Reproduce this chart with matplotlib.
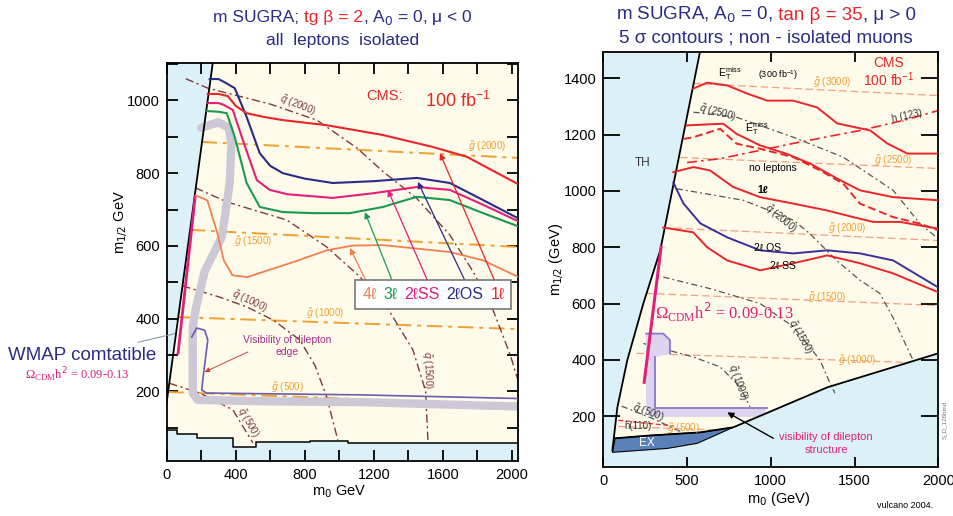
import numpy as np
import matplotlib.pyplot as plt
from matplotlib.patches import Polygon
from matplotlib.offsetbox import TextArea, HPacker, AnnotationBbox

plt.rcParams['font.family'] = ['Liberation Sans', 'DejaVu Sans']

# colours
c_sky = '#dcf0f8'
c_cream = '#fffbea'
c_navy = '#2b2b86'
c_red = '#e8262a'
c_mag = '#e0207a'
c_green = '#1a9a50'
c_orange = '#f08050'
c_sq = '#7b3b3b'
c_gl = '#f0a030'
c_text_vis = '#a0308a'

# ---------------- left panel data (tan b = 2) ----------------
L_th_m0 = [0, 267]
L_th_m12 = [170, 1104]
L_step_m0 = [0, 58, 175, 383, 520, 830, 1050, 2040]
L_step_m12 = [94, 82, 71, 47, 60, 64, 57, 57]

L_1l_m0 = [238, 300, 354, 400, 463, 560, 673, 927, 1252, 1543, 1739, 2035]
L_1l_m12 = [1018, 1018, 1012, 985, 965, 955, 946, 932, 905, 872, 845, 770]
L_2los_m0 = [249, 300, 336, 394, 463, 539, 600, 673, 800, 962, 1200, 1449, 1640, 1833, 2035]
L_2los_m12 = [1059, 1059, 1050, 1034, 955, 855, 820, 800, 785, 773, 778, 787, 773, 726, 676]
L_2lss_m0 = [238, 300, 330, 383, 441, 522, 597, 700, 962, 1200, 1449, 1640, 1833, 2035]
L_2lss_m12 = [993, 993, 988, 974, 891, 781, 754, 742, 732, 745, 762, 754, 713, 668]
L_3l_m0 = [232, 300, 348, 394, 463, 539, 673, 850, 1061, 1252, 1449, 1640, 1833, 2035]
L_3l_m12 = [971, 969, 965, 900, 773, 707, 693, 690, 690, 707, 735, 726, 690, 654]
L_4l_m0 = [169, 236, 294, 331, 381, 467, 737, 929, 1082, 1255, 1641, 1833, 2035]
L_4l_m12 = [739, 725, 634, 560, 519, 514, 556, 588, 601, 602, 583, 560, 515]

L_sq2000_m0 = [110, 238, 600, 870, 1100, 1252, 1450, 1640, 1774, 1890, 1990, 2035]
L_sq2000_m12 = [1060, 1034, 990, 946, 870, 805, 730, 630, 530, 424, 300, 230]
L_sq1500_m0 = [165, 348, 696, 927, 1119, 1275, 1426, 1500, 1513]
L_sq1500_m12 = [760, 721, 671, 597, 515, 432, 314, 200, 66]
L_sq1000_m0 = [90, 300, 464, 620, 771, 860, 927, 991]
L_sq1000_m12 = [490, 460, 432, 395, 341, 270, 184, 66]
L_sq500_m0 = [15, 191, 383, 499]
L_sq500_m12 = [222, 195, 149, 58]

L_gl_m0 = [[201, 2035], [133, 2035], [66, 2035], [8, 2035]]
L_gl_m12 = [[886, 842], [644, 597], [404, 371], [198, 162]]

L_band_m0 = [200, 300, 360, 375, 365, 320, 220, 170, 151, 151, 180, 600, 1119, 2035]
L_band_m12 = [925, 940, 925, 880, 773, 625, 530, 430, 377, 195, 176, 172, 170, 158]
L_edge_m0 = [145, 174, 220, 238, 209, 203, 232, 1119, 2035]
L_edge_m12 = [349, 374, 368, 341, 231, 203, 195, 190, 180]
L_wmap_m0 = [165, 66]
L_wmap_m12 = [735, 305]

L_arrow_tip = [(1061, 594), (1148, 693), (1281, 754), (1455, 776), (1583, 855)]
L_arrow_base = [(1159, 500), (1310, 500), (1515, 500), (1732, 500), (1903, 500)]
L_arrow_col = [c_orange, c_green, c_mag, c_navy, c_red]
L_leg_txt = ['4ℓ', '3ℓ', '2ℓSS', '2ℓOS', '1ℓ']

# ---------------- right panel data (tan b = 35) ----------------
R_allowed_m0 = [71, 84, 143, 239, 340, 579, 2000, 2000, 1337, 776, 579, 280, 71]
R_allowed_m12 = [121, 231, 398, 600, 789, 1500, 1500, 423, 302, 160, 142, 131, 121]
R_th_m0 = [54, 84, 143, 239, 340, 579]
R_th_m12 = [78, 231, 398, 600, 789, 1500]
R_low_m0 = [71, 280, 579, 776, 1337, 2000]
R_low_m12 = [121, 131, 142, 160, 302, 423]
R_ex_m0 = [54, 71, 280, 579, 776, 561, 382]
R_ex_m12 = [71, 121, 131, 142, 160, 103, 85]

R_et300_m0 = [537, 620, 740, 860, 979, 1134, 1276, 1397, 1594, 1695, 1815, 2000]
R_et300_m12 = [1364, 1385, 1375, 1346, 1321, 1321, 1297, 1240, 1215, 1169, 1133, 1133]
R_et_m0 = [498, 600, 716, 796, 936, 1095, 1236, 1415, 1534, 1731, 2000]
R_et_m12 = [1233, 1236, 1239, 1203, 1162, 1132, 1097, 1038, 1002, 978, 967]
R_nol_m0 = [480, 538, 697, 796, 936, 1135, 1294, 1433, 1532, 1731, 1890, 2000]
R_nol_m12 = [1185, 1191, 1221, 1168, 1150, 1120, 1073, 1026, 955, 907, 884, 860]
R_1l_m0 = [418, 538, 637, 776, 936, 1135, 1334, 1493, 1612, 1771, 2000]
R_1l_m12 = [1067, 1085, 1073, 1014, 978, 955, 931, 907, 890, 890, 866]
R_2los_m0 = [418, 478, 579, 740, 937, 1134, 1337, 1534, 1731, 2000]
R_2los_m12 = [1030, 956, 885, 835, 789, 778, 789, 778, 753, 657]
R_2lss_m0 = [358, 537, 620, 740, 937, 1134, 1337, 1534, 1731, 2000]
R_2lss_m12 = [870, 853, 800, 753, 718, 743, 771, 743, 707, 640]
R_h123_m0 = [500, 700, 900, 1134, 1400, 1534, 1800, 2000]
R_h123_m12 = [1101, 1115, 1140, 1169, 1200, 1215, 1252, 1286]
R_h110_m0 = [90, 250, 420]
R_h110_m12 = [185, 175, 165]

R_sq2500_m0 = [538, 796, 1135, 1433, 1731, 1890, 2000]
R_sq2500_m12 = [1280, 1262, 1191, 1120, 1002, 884, 830]
R_sq2000_m0 = [438, 836, 1135, 1234, 1393, 1532, 1651, 1729, 1849]
R_sq2000_m12 = [1008, 967, 896, 848, 753, 683, 636, 551, 399]
R_sq1500_m0 = [358, 637, 936, 1135, 1294, 1354, 1383]
R_sq1500_m12 = [694, 653, 600, 517, 399, 316, 281]
R_sq1000_m0 = [239, 537, 697, 816, 876]
R_sq1000_m12 = [458, 410, 375, 304, 233]
R_sq500_m0 = [110, 300, 478]
R_sq500_m12 = [235, 190, 140]

R_gl_m0 = [[537, 2000], [460, 2000], [358, 2000], [255, 2000], [200, 1800], [90, 700]]
R_gl_m12 = [[1382, 1339], [1119, 1080], [870, 824], [636, 593], [423, 391], [163, 150]]
R_gl_lab = ['3000', '2500', '2000', '1500', '1000', '500']
R_gl_pos = [(1367, 1385), (1731, 1108), (1457, 867), (1337, 622), (1516, 398), (478, 156)]

R_wmap_m0 = [345, 244]
R_wmap_m12 = [800, 320]
R_band_m0 = [255, 358, 398, 398, 309, 309, 975, 960, 270, 255]
R_band_m12 = [493, 493, 470, 422, 410, 227, 227, 197, 197, 230]

fig = plt.figure(figsize=(9.54, 5.16), dpi=100)
NBSP = '\u00a0'


def style_axes(ax):
    for s in ax.spines.values():
        s.set_linewidth(1.3)
    ax.tick_params(which='both', direction='in', top=True, right=True,
                   width=1.3, labelsize=10.5, pad=5)


def color_line(parts, x, y, size):
    boxes = [TextArea(t.replace(' ', NBSP), textprops=dict(color=c, fontsize=size))
             for t, c in parts]
    pack = HPacker(children=boxes, align='baseline', pad=0, sep=0)
    fig.add_artist(AnnotationBbox(pack, (x, y), xycoords='figure fraction',
                                  frameon=False, box_alignment=(0.5, 0.5)))


# ================= LEFT =================
ax1 = fig.add_axes([166.7 / 954, 1 - 461 / 516, 351.3 / 954, 398.3 / 516])
ax1.set_xlim(5, 2035)
ax1.set_ylim(8, 1104)
ax1.set_facecolor(c_sky)

# allowed region outline from TH line and step line
sx, sy = [], []
for i in range(len(L_step_m0) - 1):
    sx += [L_step_m0[i], L_step_m0[i + 1]]
    sy += [L_step_m12[i], L_step_m12[i]]
poly = list(zip(L_th_m0, L_th_m12)) + [(2040, 1104)] + list(zip(sx[::-1], sy[::-1]))
ax1.add_patch(Polygon(poly, closed=True, facecolor=c_cream, edgecolor='none', zorder=0))
ax1.plot(sx, sy, color='black', lw=1.1, zorder=3)
ax1.plot(L_th_m0, L_th_m12, color='black', lw=1.3, zorder=3)

for gx, gy in zip(L_gl_m0, L_gl_m12):
    ax1.plot(gx, gy, color=c_gl, lw=1.4, dashes=(8, 3, 2, 3), zorder=2)
for qx, qy in [(L_sq2000_m0, L_sq2000_m12), (L_sq1500_m0, L_sq1500_m12),
               (L_sq1000_m0, L_sq1000_m12), (L_sq500_m0, L_sq500_m12)]:
    ax1.plot(qx, qy, color=c_sq, lw=1.0, dashes=(6, 2.5, 1.5, 2.5), zorder=2)

ax1.plot(L_band_m0, L_band_m12, color='#cdc8d6', lw=6, solid_capstyle='round',
         solid_joinstyle='round', zorder=2)
ax1.plot(L_edge_m0, L_edge_m12, color='#6a5cae', lw=1.2, zorder=3)
ax1.plot(L_wmap_m0, L_wmap_m12, color=c_mag, lw=2, zorder=3)

ax1.plot(L_4l_m0, L_4l_m12, color=c_orange, lw=1.3, zorder=4)
ax1.plot(L_3l_m0, L_3l_m12, color=c_green, lw=1.5, zorder=4)
ax1.plot(L_2lss_m0, L_2lss_m12, color=c_mag, lw=1.5, zorder=4)
ax1.plot(L_2los_m0, L_2los_m12, color=c_navy, lw=1.5, zorder=4)
ax1.plot(L_1l_m0, L_1l_m12, color=c_red, lw=1.5, zorder=4)

for tip, base, col in zip(L_arrow_tip, L_arrow_base, L_arrow_col):
    ax1.annotate('', xy=tip, xytext=base,
                 arrowprops=dict(arrowstyle='-|>', color=col, lw=0.9,
                                 mutation_scale=9, shrinkA=0, shrinkB=0), zorder=5)

boxes = [TextArea(t, textprops=dict(color=c, fontsize=11.5))
         for t, c in zip(L_leg_txt, L_arrow_col)]
pack = HPacker(children=boxes, align='baseline', pad=1, sep=5)
ax1.add_artist(AnnotationBbox(pack, (1545, 466), xycoords='data', frameon=True,
                              box_alignment=(0.5, 0.5),
                              bboxprops=dict(edgecolor='#777777', facecolor='white', lw=1.2),
                              zorder=6))

lab = dict(fontsize=7, zorder=5)
ax1.text(758, 986, r'$\tilde{q}$ (2000)', color=c_sq, rotation=-22, ha='center', va='center', **lab)
ax1.text(481, 446, r'$\tilde{q}$ (1000)', color=c_sq, rotation=-25, ha='center', va='center', **lab)
ax1.text(1507, 258, r'$\tilde{q}$ (1500)', color=c_sq, rotation=-88, ha='center', va='center', **lab)
ax1.text(471, 115, r'$\tilde{q}$ (500)', color=c_sq, rotation=-60, ha='center', va='center', **lab)
ax1.text(1855, 872, r'$\tilde{g}$ (2000)', color=c_gl, ha='center', va='center', **lab)
ax1.text(500, 611, r'$\tilde{g}$ (1500)', color=c_gl, ha='center', va='center', **lab)
ax1.text(916, 415, r'$\tilde{g}$ (1000)', color=c_gl, ha='center', va='center', **lab)
ax1.text(702, 209, r'$\tilde{g}$ (500)', color=c_gl, ha='center', va='center', **lab)

ax1.text(1260, 1012, 'CMS:', color=c_red, fontsize=10.5, ha='center', va='center')
ax1.text(1690, 1000, '100 fb$^{\\mathregular{-1}}$', color=c_red, fontsize=13, ha='center', va='center')

ax1.text(696, 325, 'Visibility of dilepton\nedge', color=c_text_vis, fontsize=7.5,
         ha='center', va='center', linespacing=1.2)
ax1.annotate('', xy=(220, 253), xytext=(470, 308),
             arrowprops=dict(arrowstyle='-|>', color='#d04040', lw=0.7,
                             mutation_scale=7, shrinkA=0, shrinkB=0))
ax1.annotate('', xy=(60, 360), xycoords='data', xytext=(135 / 954, 1 - 343 / 516),
             textcoords='figure fraction', annotation_clip=False,
             arrowprops=dict(arrowstyle='-', color='#8090a0', lw=0.7))

ax1.set_xticks([0, 400, 800, 1200, 1600, 2000])
ax1.set_xticks(np.arange(200, 2001, 400), minor=True)
ax1.set_yticks([200, 400, 600, 800, 1000])
ax1.set_yticks(np.arange(100, 1101, 200), minor=True)
style_axes(ax1)
ax1.tick_params(which='both', length=8)
ax1.set_xlabel('m$_0$ GeV', fontsize=10.5)
ax1.xaxis.set_label_coords(0.49, -0.055)
ax1.set_ylabel('m$_{1/2}$ GeV', fontsize=10.5)
ax1.yaxis.set_label_coords(-0.105, 0.6)

fig.text(8 / 954, 1 - 356 / 516, 'WMAP comtatible', color=c_navy, fontsize=13.5, va='center')
fig.text(25 / 954, 1 - 375 / 516, 'Ω$_{\\mathregular{CDM}}$h$^2$ = 0.09-0.13', color=c_mag,
         fontsize=9, va='center', family=['Liberation Serif', 'DejaVu Serif'])

color_line([('m SUGRA; ', c_navy), ('tg β = 2', c_red), (', A$_0$ = 0, μ < 0', c_navy)],
           343 / 954, 1 - 17 / 516, 12.5)
color_line([('all  leptons  isolated', c_navy)], 343 / 954, 1 - 40 / 516, 12.5)

# ================= RIGHT =================
ax2 = fig.add_axes([603.3 / 954, 1 - 466.7 / 516, 335 / 954, 415 / 516])
ax2.set_xlim(0, 2000)
ax2.set_ylim(20, 1495)
ax2.set_facecolor(c_sky)

ax2.add_patch(Polygon(list(zip(R_allowed_m0, R_allowed_m12)), closed=True,
                      facecolor=c_cream, edgecolor='none', zorder=0))
ax2.add_patch(Polygon(list(zip(R_ex_m0, R_ex_m12)), closed=True,
                      facecolor='#5a80b8', edgecolor='black', lw=0.8, zorder=3))
ax2.plot(R_th_m0, R_th_m12, color='black', lw=1.3, zorder=4)
ax2.plot(R_low_m0, R_low_m12, color='black', lw=1.3, zorder=4)

for gx, gy in zip(R_gl_m0, R_gl_m12):
    ax2.plot(gx, gy, color='#f0a080', lw=0.9, dashes=(6, 3), zorder=1)
for t, p in zip(R_gl_lab, R_gl_pos):
    ax2.text(p[0], p[1], r'$\tilde{g}$ (' + t + ')', color=c_gl, fontsize=7,
             ha='center', va='center', zorder=5)

for qx, qy in [(R_sq2500_m0, R_sq2500_m12), (R_sq2000_m0, R_sq2000_m12),
               (R_sq1500_m0, R_sq1500_m12), (R_sq1000_m0, R_sq1000_m12),
               (R_sq500_m0, R_sq500_m12)]:
    ax2.plot(qx, qy, color='#555555', lw=0.9, dashes=(5, 2.5, 1.5, 2.5), zorder=1)
ax2.plot(R_h123_m0, R_h123_m12, color=c_red, lw=1.2, dashes=(6, 2.5, 1.5, 2.5), zorder=2)
ax2.plot(R_h110_m0, R_h110_m12, color=c_red, lw=0.9, dashes=(4, 2), zorder=2)

ax2.add_patch(Polygon(list(zip(R_band_m0, R_band_m12)), closed=True,
                      facecolor='#dcd4ee', edgecolor='none', zorder=2))
ax2.plot(R_band_m0[:4], R_band_m12[:4], color='#8a78c8', lw=1.3, zorder=3)
ax2.plot(R_band_m0[4:7], R_band_m12[4:7], color='#8a78c8', lw=1.3, zorder=3)
ax2.plot(R_wmap_m0, R_wmap_m12, color=c_mag, lw=2.2, zorder=4)

ax2.plot(R_et300_m0, R_et300_m12, color=c_red, lw=1.4, zorder=4)
ax2.plot(R_et_m0, R_et_m12, color=c_red, lw=1.4, zorder=4)
ax2.plot(R_nol_m0, R_nol_m12, color=c_red, lw=1.4, dashes=(4, 2), zorder=4)
ax2.plot(R_1l_m0, R_1l_m12, color=c_red, lw=1.4, zorder=4)
ax2.plot(R_2los_m0, R_2los_m12, color='#3a2e9a', lw=1.4, zorder=4)
ax2.plot(R_2lss_m0, R_2lss_m12, color=c_red, lw=1.4, zorder=4)

sq = dict(color='#333333', fontsize=7, ha='center', va='center', zorder=5)
ax2.text(680, 1279, r'$\tilde{q}$ (2500)', rotation=-15, **sq)
ax2.text(1057, 902, r'$\tilde{q}$ (2000)', rotation=-40, **sq)
ax2.text(1176, 480, r'$\tilde{q}$ (1500)', rotation=-60, **sq)
ax2.text(800, 320, r'$\tilde{q}$ (1000)', rotation=-70, **sq)
ax2.text(269, 213, r'$\tilde{q}$ (500)', rotation=-20, **sq)
ax2.text(210, 163, 'h(110)', **sq)
ax2.text(1815, 1268, 'h (123)', rotation=12, **sq)

blk = dict(color='black', fontsize=7.5, ha='center', va='center', zorder=5)
ax2.text(758, 1417, 'E$_\\mathregular{T}^\\mathregular{miss}$', **blk)
ax2.text(1040, 1410, '(300 fb$^{\\mathregular{-1}}$)', fontsize=6.5, color='black',
         ha='center', va='center', zorder=5)
ax2.text(919, 1222, 'E$_\\mathregular{T}^\\mathregular{miss}$', **blk)
ax2.text(1015, 1083, 'no leptons', **blk)
ax2.text(950, 1002, '1ℓ', fontsize=7.5, fontweight='bold', color='black',
         ha='center', va='center', zorder=5)
ax2.text(980, 796, '2ℓ OS', **blk)
ax2.text(1075, 735, '2ℓ SS', **blk)
ax2.text(233, 1101, 'TH', color='#333333', fontsize=8.5, ha='center', va='center')
ax2.text(262, 103, 'EX', color='white', fontsize=8.5, ha='center', va='center', zorder=5)
ax2.text(1701, 1456, 'CMS', color=c_red, fontsize=10, ha='center', va='center', zorder=5)
ax2.text(1701, 1394, '100 fb$^{\\mathregular{-1}}$', color=c_red, fontsize=10,
         ha='center', va='center', zorder=5)
ax2.text(720, 568, 'Ω$_{\\mathregular{CDM}}$h$^2$ = 0.09-0.13', color=c_mag, fontsize=12,
         ha='center', va='center', family=['Liberation Serif', 'DejaVu Serif'], zorder=5)
ax2.text(1331, 103, 'visibility of dilepton\nstructure', color=c_mag, fontsize=8,
         ha='center', va='center', linespacing=1.3, zorder=5)
ax2.annotate('', xy=(740, 213), xytext=(1015, 121),
             arrowprops=dict(arrowstyle='-|>', color='black', lw=1.0,
                             mutation_scale=9, shrinkA=0, shrinkB=0), zorder=5)

ax2.set_xticks([0, 500, 1000, 1500, 2000])
ax2.set_yticks([200, 400, 600, 800, 1000, 1200, 1400])
style_axes(ax2)
ax2.tick_params(axis='x', length=7)
ax2.tick_params(axis='y', length=12)
ax2.set_xlabel('m$_0$ (GeV)', fontsize=10.5)
ax2.xaxis.set_label_coords(0.525, -0.055)
ax2.set_ylabel('m$_{1/2}$ (GeV)', fontsize=10.5)
ax2.yaxis.set_label_coords(-0.11, 0.5)

color_line([('m SUGRA, A$_0$ = 0,', c_navy), (' tan β = 35', c_red), (', μ > 0', c_navy)],
           766 / 954, 1 - 15 / 516, 13.5)
color_line([('5 σ contours ; non - isolated muons', c_navy)], 766 / 954, 1 - 38 / 516, 13.5)

fig.text(905 / 954, 1 - 505 / 516, 'vulcano 2004.', fontsize=6.5, ha='center', va='center')
fig.text(945 / 954, 1 - 420 / 516, 'S_D_126bmd', fontsize=4.5, color='#777777',
         rotation=90, ha='center', va='center')

fig.savefig('out.png', dpi=100)
